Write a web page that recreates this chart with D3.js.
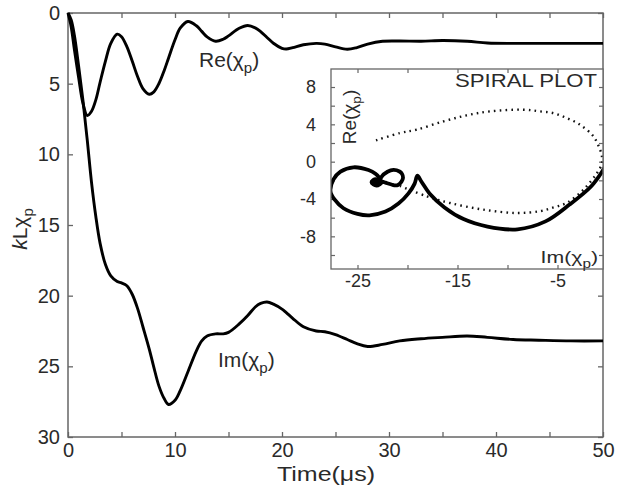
<!DOCTYPE html>
<html>
<head>
<meta charset="utf-8">
<script src="https://cdn.jsdelivr.net/npm/d3@7"></script>
<style>
  body { margin: 0; background: #fff; }
  svg { display: block; }
  text { font-family: "Liberation Sans", Arial, sans-serif; }
</style>
</head>
<body>
<svg id="chart" width="617" height="489"></svg>
<script>
// Time samples (µs) shared by both components of the susceptibility
const time = [0, 0.3, 0.6, 1.0, 1.4, 1.8, 2.2, 2.6, 3.0, 3.5, 4.0, 4.6, 5.0, 5.5, 6.0, 6.5, 7.0, 7.6,
  8.0, 8.5, 9.0, 9.4, 10.0, 10.5, 11.2, 12.0, 12.5, 13.0, 13.8, 14.5, 15.0, 16.0, 16.8, 17.5, 18.0,
  18.6, 19.2, 20.0, 20.4, 21.0, 22.0, 23.2, 24.0, 25.0, 26.1, 27.0, 28.0, 29.4, 31.0, 33.0, 35.0,
  37.3, 39.2, 41.6, 44.0, 47.0, 50.0];

// kL·Re(χp)
const reChi = [0, 1.0, 2.6, 4.6, 6.4, 7.25, 6.95, 6.15, 4.9, 3.4, 2.15, 1.5, 1.68, 2.38, 3.4, 4.49, 5.35, 5.75,
  5.6, 4.99, 4.05, 3.18, 1.89, 1.06, 0.6, 0.9, 1.3, 1.69, 2.0, 1.86, 1.62, 1.08, 0.88, 1.05, 1.31,
  1.73, 2.14, 2.5, 2.55, 2.45, 2.25, 2.15, 2.2, 2.4, 2.57, 2.45, 2.2, 2.0, 1.98, 2.0, 1.95,
  2.0, 2.12, 2.15, 2.15, 2.15, 2.15];

// kL·Im(χp)
const imChi = [0, 0.5, 1.6, 3.8, 6.2, 9.0, 12.0, 14.4, 16.3, 17.8, 18.6, 19.0, 19.1, 19.3, 19.9, 20.9, 22.2, 23.8,
  25.0, 26.4, 27.3, 27.7, 27.4, 26.7, 25.4, 23.9, 23.2, 22.85, 22.7, 22.7, 22.6, 22.0, 21.4, 20.8, 20.55,
  20.45, 20.6, 20.95, 21.2, 21.6, 22.2, 22.5, 22.55, 22.75, 23.1, 23.4, 23.6, 23.45, 23.2, 23.05, 22.95,
  22.85, 22.95, 23.1, 23.15, 23.2, 23.2];

// Reference (dotted) trajectory in the Im–Re plane
const refIm = [-23.15, -20.75, -19.1, -16.4, -14.1, -11.75, -8.4, -6.75, -5.4, -4.1, -2.75, -1.4, -0.75, -0.55,
  -0.6, -1.1, -2.4, -4.1, -5.4, -6.75, -9.1, -12.4, -15.75, -18.1, -20.75];
const refRe = [2.28, 3.07, 3.43, 4.32, 4.96, 5.39, 5.57, 5.39, 5.2, 4.68, 3.96, 2.7, 1.3, 0.5,
  -0.3, -1.3, -3.0, -4.43, -4.9, -5.3, -5.5, -5.14, -4.43, -3.7, -2.6];

// Tick values
const xTickValues = [0, 5, 10, 15, 20, 25, 30, 35, 40, 45, 50];
const xTickLabels = [0, 10, 20, 30, 40, 50];
const yTickValues = [0, 5, 10, 15, 20, 25, 30];
const insetXTickValues = [-25, -20, -15, -10, -5];
const insetXTickLabels = [-25, -15, -5];
const insetYTickValues = [-10, -8, -6, -4, -2, 0, 2, 4, 6, 8];
const insetYTickLabels = [8, 4, 0, -4, -8];

const svg = d3.select("#chart");
const AXIS = "#666";
const TXT = "#2a2a2a";

// Text made of parts [text, isSub, isItalic], placed at (x, y) with rotation and horizontal stretch
function richText(parent, x, y, parts, size, opts = {}) {
  const { anchor = "start", rotate = 0, sx = 1 } = opts;
  const sel = parent.append("text")
    .attr("transform", `translate(${x},${y}) rotate(${rotate}) scale(${sx},1)`)
    .attr("font-size", size).attr("text-anchor", anchor).attr("fill", TXT);
  parts.forEach(([s, sub, italic], i) => {
    const prevSub = i > 0 && parts[i - 1][1];
    const ts = sel.append("tspan").text(s);
    if (sub) ts.attr("font-size", size * 0.72).attr("dy", size * 0.28);
    else if (prevSub) ts.attr("dy", -size * 0.28);
    if (italic) ts.attr("font-style", "italic");
  });
  return sel;
}
const chiP = (pre) => [[pre + "(", false], ["χ", false], ["p", true], [")", false]];

// ---------- main plot ----------
const L = 68, R = 603, T = 13, B = 437;
const x = d3.scaleLinear().domain([0, 50]).range([L, R]);
const y = d3.scaleLinear().domain([0, 30]).range([T, B]);

const main = svg.append("g");

main.append("g")
  .attr("transform", `translate(0,${B})`)
  .call(d3.axisBottom(x).tickValues(xTickValues).tickSize(-5).tickPadding(6)
    .tickFormat(d => xTickLabels.includes(d) ? d : ""))
  .call(g => g.select(".domain").remove());
main.append("g")
  .attr("transform", `translate(0,${T})`)
  .call(d3.axisTop(x).tickValues(xTickValues).tickSize(-5).tickFormat(""))
  .call(g => g.select(".domain").remove());
main.append("g")
  .attr("transform", `translate(${L},0)`)
  .call(d3.axisLeft(y).tickValues(yTickValues).tickSize(-5).tickPadding(8))
  .call(g => g.select(".domain").remove());
main.append("g")
  .attr("transform", `translate(${R},0)`)
  .call(d3.axisRight(y).tickValues(yTickValues).tickSize(-5).tickFormat(""))
  .call(g => g.select(".domain").remove());

main.selectAll(".tick line").attr("stroke", AXIS).attr("stroke-width", 1.3);
main.selectAll(".tick text").attr("fill", TXT).attr("font-size", 20)
  .attr("font-family", '"Liberation Sans", Arial, sans-serif');

main.append("rect").attr("x", L).attr("y", T).attr("width", R - L).attr("height", B - T)
  .attr("fill", "none").attr("stroke", AXIS).attr("stroke-width", 1.5);

const lineT = (vals) => d3.line()
  .x((d, i) => x(time[i]))
  .y(d => y(d))
  .curve(d3.curveCatmullRom.alpha(0.5))(vals);

main.append("path").attr("d", lineT(reChi))
  .attr("fill", "none").attr("stroke", "#000").attr("stroke-width", 2.9).attr("stroke-linejoin", "round");
main.append("path").attr("d", lineT(imChi))
  .attr("fill", "none").attr("stroke", "#000").attr("stroke-width", 2.9).attr("stroke-linejoin", "round");

richText(main, 199, 67, chiP("Re"), 20, { sx: 1.05 });
richText(main, 218, 367, chiP("Im"), 20, { sx: 1.05 });

// axis titles
richText(main, 326, 481, [["Time(μs)", false]], 20, { anchor: "middle", sx: 1.25 });
richText(main, 27, 229, [["k", false, true], ["L", false], ["χ", false], ["p", true]], 21,
  { anchor: "middle", rotate: -90 });

// ---------- inset: spiral plot ----------
const iL = 331, iR = 603, iT = 69, iB = 269;
const ix = d3.scaleLinear().domain([-27.65, -0.45]).range([iL, iR]);
const iy = d3.scaleLinear().domain([-11.5, 9.93]).range([iB, iT]);

const inset = svg.append("g");
inset.append("rect").attr("x", iL).attr("y", iT).attr("width", iR - iL).attr("height", iB - iT)
  .attr("fill", "#fff");

inset.append("g").attr("transform", `translate(0,${iB})`)
  .call(d3.axisBottom(ix).tickValues(insetXTickValues).tickSize(-4).tickPadding(5)
    .tickFormat(d => insetXTickLabels.includes(d) ? d : ""))
  .call(g => g.select(".domain").remove());
inset.append("g").attr("transform", `translate(0,${iT})`)
  .call(d3.axisTop(ix).tickValues(insetXTickValues).tickSize(-4).tickFormat(""))
  .call(g => g.select(".domain").remove());
inset.append("g").attr("transform", `translate(${iL},0)`)
  .call(d3.axisLeft(iy).tickValues(insetYTickValues).tickSize(-4).tickPadding(15)
    .tickFormat(d => insetYTickLabels.includes(d) ? d : ""))
  .call(g => g.select(".domain").remove());
inset.append("g").attr("transform", `translate(${iR},0)`)
  .call(d3.axisRight(iy).tickValues(insetYTickValues).tickSize(-4).tickFormat(""))
  .call(g => g.select(".domain").remove());

inset.selectAll(".tick line").attr("stroke", AXIS).attr("stroke-width", 1.2);
inset.selectAll(".tick text").attr("fill", TXT).attr("font-size", 18)
  .attr("font-family", '"Liberation Sans", Arial, sans-serif');

svg.append("clipPath").attr("id", "insetClip")
  .append("rect").attr("x", iL).attr("y", iT).attr("width", iR - iL).attr("height", iB - iT);

const plot = inset.append("g").attr("clip-path", "url(#insetClip)");

// dotted reference loop
plot.append("path")
  .attr("d", d3.line().x((d, i) => ix(refIm[i])).y(d => iy(d)).curve(d3.curveCatmullRom.alpha(0.5))(refRe))
  .attr("fill", "none").attr("stroke", "#111").attr("stroke-width", 2.4)
  .attr("stroke-dasharray", "1.6,4.2");

// measured trajectory: (−Im, −Re) over time
const traj = time.map((t, i) => [-imChi[i], -reChi[i]]);
plot.append("path")
  .attr("d", d3.line().x(d => ix(d[0])).y(d => iy(d[1])).curve(d3.curveCatmullRom.alpha(0.5))(traj))
  .attr("fill", "none").attr("stroke", "#000").attr("stroke-width", 3.8)
  .attr("stroke-linejoin", "round").attr("stroke-linecap", "round");
const last = traj[traj.length - 1];
plot.append("circle").attr("cx", ix(last[0])).attr("cy", iy(last[1])).attr("r", 4.5).attr("fill", "#000");

inset.append("rect").attr("x", iL).attr("y", iT).attr("width", iR - iL).attr("height", iB - iT)
  .attr("fill", "none").attr("stroke", AXIS).attr("stroke-width", 1.3);

inset.append("text").attr("x", 597).attr("y", 87).attr("font-size", 18).attr("text-anchor", "end")
  .attr("fill", TXT).attr("textLength", 142).attr("lengthAdjust", "spacingAndGlyphs").text("SPIRAL PLOT");
richText(inset, 598, 263, chiP("Im"), 17, { anchor: "end", sx: 1.25 });
richText(inset, 356, 117, chiP("Re"), 19, { anchor: "middle", rotate: -90 });
</script>
</body>
</html>
